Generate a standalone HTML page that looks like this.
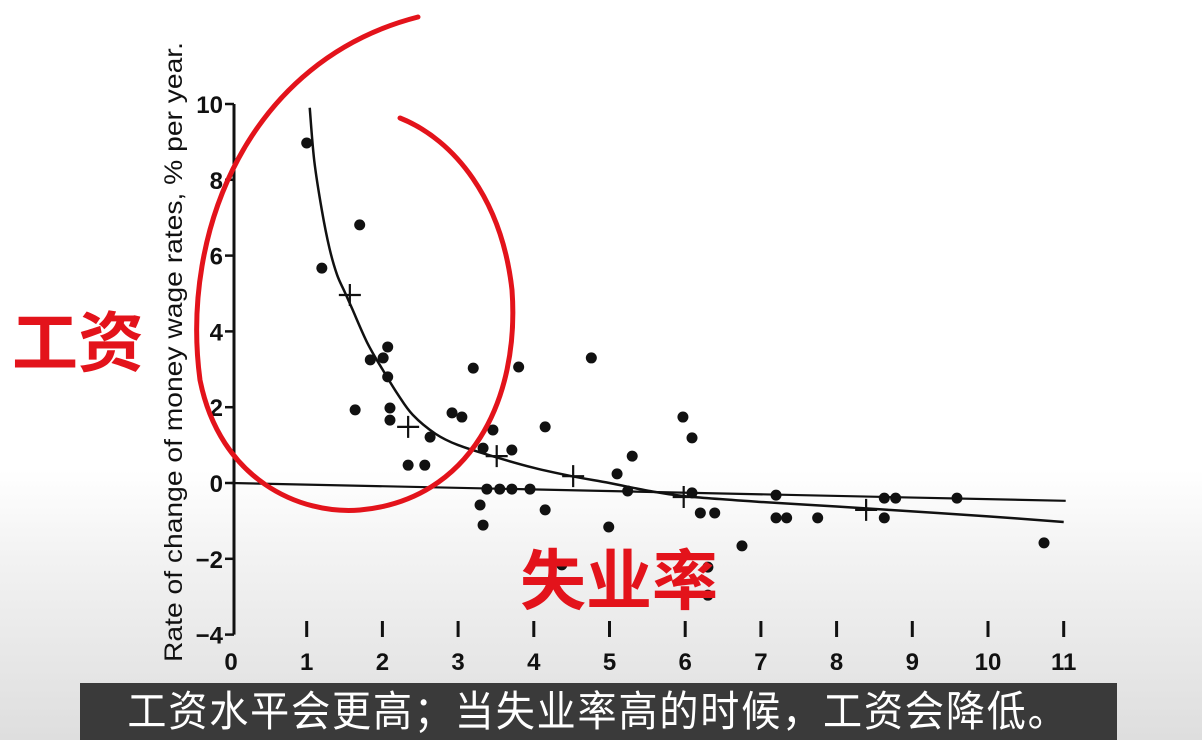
<!DOCTYPE html>
<html><head><meta charset="utf-8"><style>
html,body{margin:0;padding:0}
body{width:1202px;height:740px;overflow:hidden;position:relative;background:linear-gradient(to bottom,#fff 0,#fff 470px,#f2f2f2 560px,#dedede 740px);font-family:"Liberation Sans",sans-serif}
svg{position:absolute;left:0;top:0}
.cap{position:absolute;left:80px;top:683px;width:1037px;height:57px;background:#3a3a3a;color:#fff;font-family:"Liberation Sans","Noto Sans CJK SC",sans-serif;font-size:42px;line-height:57px;text-align:center;overflow:hidden;white-space:nowrap}
.cap span{display:inline-block;transform:scaleX(0.93);letter-spacing:2px}
.red{position:absolute;color:#e3131b;font-family:"Liberation Sans","Noto Sans CJK SC",sans-serif;font-weight:bold}
</style></head><body>
<svg width="1202" height="740" id="chart"></svg>
<div class="red" style="left:12px;top:290px;font-size:66px">工资</div>
<div class="red" style="left:520px;top:528px;font-size:66px">失业率</div>
<div class="cap"><span>工资水平会更高；当失业率高的时候，工资会降低。</span></div>
<script>
const xTicks=[0,1,2,3,4,5,6,7,8,9,10,11];
const yTicks=[10,8,6,4,2,0,-2,-4];
const pointsX=[1.00,1.20,1.70,1.64,1.84,2.01,2.07,2.07,2.10,2.10,2.34,2.56,2.63,2.92,3.05,3.20,3.29,3.33,3.33,3.38,3.46,3.55,3.71,3.71,3.80,3.95,4.15,4.15,4.37,4.76,4.99,5.10,5.24,5.30,5.97,6.09,6.09,6.20,6.39,6.30,6.30,6.75,7.20,7.20,7.34,7.75,8.63,8.63,8.78,9.59,10.74];
const pointsY=[8.97,5.67,6.81,1.93,3.25,3.30,3.59,2.80,1.98,1.66,0.47,0.47,1.21,1.85,1.74,3.03,-0.58,-1.11,0.92,-0.16,1.40,-0.16,-0.16,0.87,3.06,-0.16,1.48,-0.71,-2.16,3.30,-1.16,0.24,-0.21,0.71,1.74,1.19,-0.26,-0.79,-0.79,-2.22,-2.96,-1.66,-0.32,-0.92,-0.92,-0.92,-0.40,-0.92,-0.40,-0.40,-1.58];
const crossX=[1.57,2.34,3.51,4.52,5.98,8.39];
const crossY=[4.96,1.48,0.71,0.18,-0.37,-0.71];
const curveX=[1.04,1.1,1.2,1.3,1.4,1.5,1.6,1.8,2.0,2.2,2.4,2.7,3.0,3.5,4.0,4.5,5.0,5.5,6,7,8,9,10,11];
const curveY=[9.9,8.5,7.2,6.2,5.5,5.05,4.6,3.7,3.0,2.35,1.8,1.3,1.0,0.68,0.4,0.18,0.0,-0.2,-0.35,-0.5,-0.62,-0.75,-0.88,-1.03];
const baseX=[0,11];
const baseY=[0,-0.47];
const NS="http://www.w3.org/2000/svg";
const svg=document.getElementById('chart');
const sx=v=>231+v*75.7, sy=v=>483-v*37.9;
function mk(t,a,txt){const e=document.createElementNS(NS,t);for(const k in a)e.setAttribute(k,a[k]);if(txt!=null)e.textContent=txt;svg.appendChild(e);return e;}
let e;
e=mk('line',{x1:234,y1:sy(10),x2:234,y2:sy(-4),stroke:'#111','stroke-width':3});


yTicks.forEach(v=>{
 e=mk('line',{x1:225,y1:sy(v),x2:234,y2:sy(v),stroke:'#111','stroke-width':2.5});
 
 
 e=mk('text',{x:223,y:sy(v)+9,'text-anchor':'end','font-size':24,fill:'#111','font-weight':'bold'},v<0?'−'+(-v):String(v));
 
 
});
xTicks.forEach(v=>{
 if(v>0){e=mk('line',{x1:sx(v),y1:621,x2:sx(v),y2:637,stroke:'#111','stroke-width':3});
 
 }
 e=mk('text',{x:sx(v),y:670,'text-anchor':'middle','font-size':24,fill:'#111','font-weight':'bold'},String(v));
 
 
});
e=mk('text',{transform:'translate(182,662) rotate(-90)','font-size':25,fill:'#111','textLength':620,'lengthAdjust':'spacingAndGlyphs'},'Rate of change of money wage rates, % per year.');


e=mk('line',{x1:sx(baseX[0]),y1:sy(baseY[0]),x2:sx(baseX[1])+2,y2:sy(baseY[1]),stroke:'#111','stroke-width':2.2});


const P=curveX.map((x,i)=>[sx(x),sy(curveY[i])]);
let d='M'+P[0][0]+','+P[0][1];
for(let i=0;i<P.length-1;i++){const p0=P[Math.max(0,i-1)],p1=P[i],p2=P[i+1],p3=P[Math.min(P.length-1,i+2)];
 d+=` C${p1[0]+(p2[0]-p0[0])/6},${p1[1]+(p2[1]-p0[1])/6} ${p2[0]-(p3[0]-p1[0])/6},${p2[1]-(p3[1]-p1[1])/6} ${p2[0]},${p2[1]}`;}
e=mk('path',{d:d,fill:'none',stroke:'#111','stroke-width':2.5});


pointsX.forEach((x,i)=>{
 e=mk('circle',{cx:sx(x),cy:sy(pointsY[i]),r:5.5,fill:'#111'});
 
 
});
crossX.forEach((x,i)=>{
 const cx=sx(x),cy=sy(crossY[i]);
 e=mk('path',{d:`M${cx-11},${cy}H${cx+11}M${cx},${cy-11}V${cy+11}`,stroke:'#111','stroke-width':2.2});
 
 
});
e=mk('path',{d:'M418,17 C250,60 180,230 200,380 C220,480 300,515 360,510 C470,500 520,400 512,290 C502,200 455,140 400,118',fill:'none',stroke:'#e3131b','stroke-width':5,'stroke-linecap':'round'});


</script>
</body></html>
